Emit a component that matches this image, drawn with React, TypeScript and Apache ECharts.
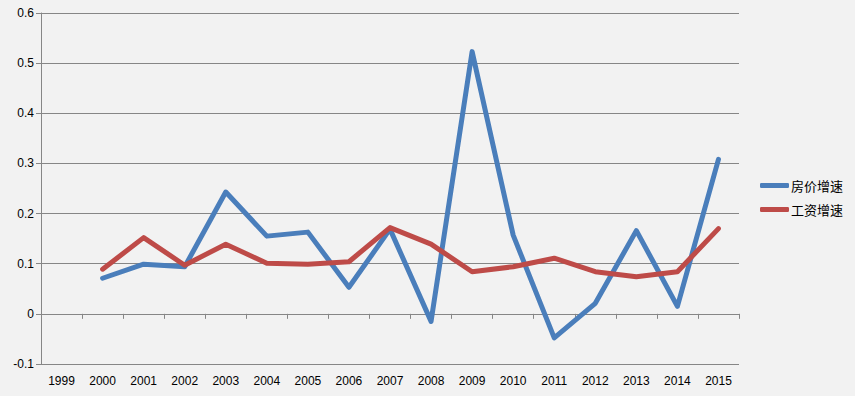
import React, { useEffect, useRef } from "react";
import * as echarts from "echarts";

const years = ["1999", "2000", "2001", "2002", "2003", "2004", "2005", "2006", "2007", "2008", "2009", "2010", "2011", "2012", "2013", "2014", "2015"];
const housePrice = [null, 0.071, 0.099, 0.094, 0.243, 0.155, 0.163, 0.053, 0.169, -0.015, 0.523, 0.157, -0.048, 0.021, 0.166, 0.015, 0.308];
const wage = [null, 0.089, 0.152, 0.097, 0.139, 0.101, 0.099, 0.104, 0.172, 0.139, 0.084, 0.094, 0.111, 0.084, 0.074, 0.084, 0.17];
const seriesNames = ["房价增速", "工资增速"];

export default function App() {
  const ref = useRef<HTMLDivElement>(null);
  useEffect(() => {
    document.body.style.margin = "0";
    document.body.style.background = "#f2f2f2";
    const chart = echarts.init(ref.current!, undefined, { renderer: "svg" });
    const axisColor = "#868686";
    chart.setOption({
      animation: false,
      backgroundColor: "#f2f2f2",
      textStyle: { fontFamily: "Liberation Sans" },
      grid: { left: 41, right: 116, top: 13, bottom: 32, containLabel: false },
      legend: {
        orient: "vertical",
        left: 755,
        top: 174,
        itemWidth: 29,
        itemHeight: 5,
        itemGap: 11,
        icon: "roundRect",
        textStyle: { fontFamily: "Noto Sans CJK SC", fontSize: 13, color: "#000", padding: [0, 0, 0, -3] },
        data: seriesNames,
      },
      xAxis: [
        {
          type: "category",
          data: years,
          position: "bottom",
          boundaryGap: true,
          axisLine: { show: false, onZero: false },
          axisTick: { show: false },
          axisLabel: { color: "#000", fontSize: 12, margin: 11, interval: 0 },
          splitLine: { show: false },
        },
        {
          type: "category",
          data: years,
          position: "top",
          boundaryGap: true,
          axisLine: { show: true, onZero: true, lineStyle: { color: axisColor, width: 1 } },
          axisTick: { show: true, inside: true, length: 5, lineStyle: { color: axisColor } },
          axisLabel: { show: false },
          splitLine: { show: false },
        },
      ],
      yAxis: {
        type: "value",
        min: -0.1,
        max: 0.6,
        interval: 0.1,
        axisLine: { show: true, lineStyle: { color: axisColor, width: 1 } },
        axisTick: { show: true, length: 5, lineStyle: { color: axisColor } },
        axisLabel: {
          color: "#000",
          fontSize: 12,
          margin: 7,
          formatter: (v: number) => String(Math.round(v * 10) / 10),
        },
        splitLine: { show: true, lineStyle: { color: axisColor, width: 1 } },
      },
      series: [
        {
          name: seriesNames[0],
          type: "line",
          xAxisIndex: 0,
          data: housePrice,
          showSymbol: false,
          symbol: "none",
          color: "#4a7ebb",
          lineStyle: { width: 5, color: "#4a7ebb", cap: "round", join: "round" },
        },
        {
          name: seriesNames[1],
          type: "line",
          xAxisIndex: 0,
          data: wage,
          showSymbol: false,
          symbol: "none",
          color: "#be4b48",
          lineStyle: { width: 5, color: "#be4b48", cap: "round", join: "round" },
        },
      ],
    });
    return () => chart.dispose();
  }, []);
  return <div ref={ref} style={{ width: 855, height: 396 }} />;
}
